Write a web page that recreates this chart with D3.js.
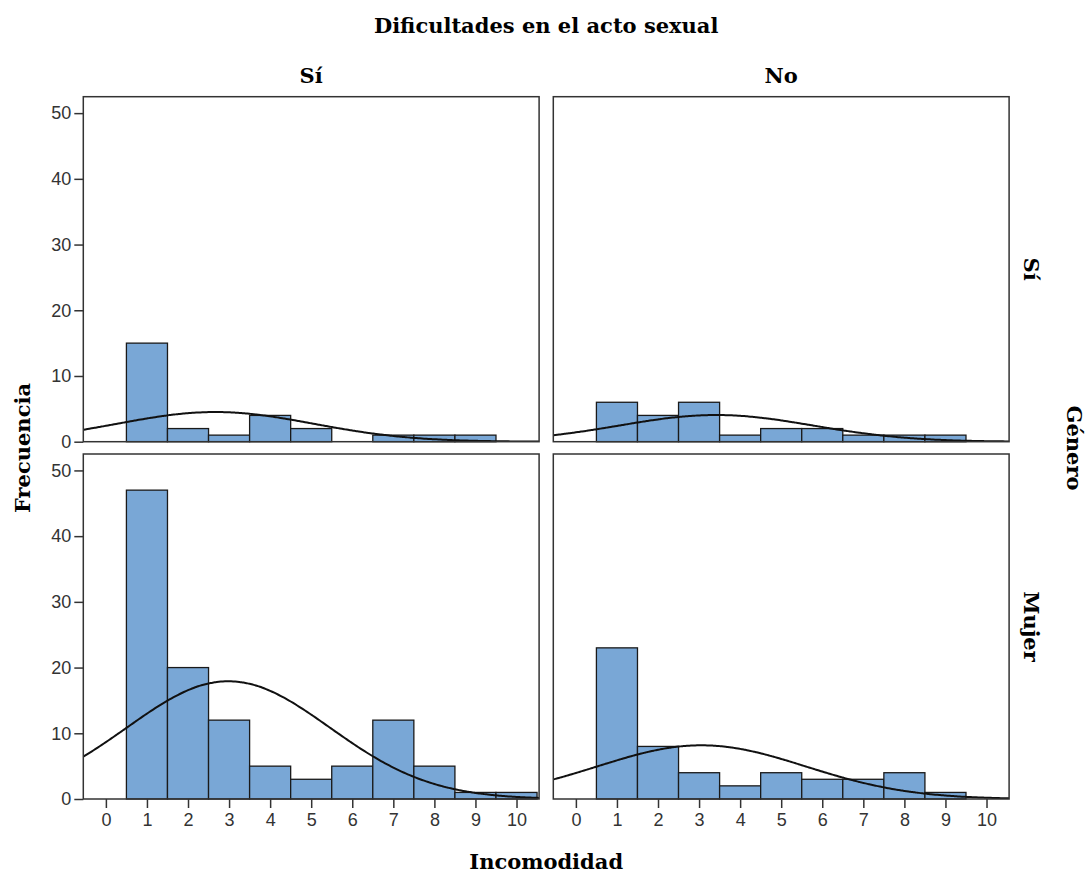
<!DOCTYPE html>
<html>
<head>
<meta charset="utf-8">
<script src="https://cdn.jsdelivr.net/npm/d3@7"></script>
<style>
  body { margin: 0; background: #fff; }
  svg { display: block; }
  .tick text { font-family: "Liberation Sans", Arial, sans-serif; font-size: 18px; fill: #333; }
  .lbl { font-family: "DejaVu Serif", serif; font-weight: bold; font-size: 21px; fill: #000; }
</style>
</head>
<body>
<svg id="chart" width="1091" height="873"></svg>
<script>
// Incomodidad bins 0..10
const bins = [0, 1, 2, 3, 4, 5, 6, 7, 8, 9, 10];
const colLabels = ["Sí", "No"];     // Dificultades en el acto sexual
const rowLabels = ["Sí", "Mujer"];  // Género
const yTicks = [0, 10, 20, 30, 40, 50];

// frequencies per bin, one array per panel
const countsTopSi = [0, 15, 2, 1, 4, 2, 0, 1, 1, 1, 0];
const countsTopNo = [0, 6, 4, 6, 1, 2, 2, 1, 1, 1, 0];
const countsBotSi = [0, 47, 20, 12, 5, 3, 5, 12, 5, 1, 1];
const countsBotNo = [0, 23, 8, 4, 2, 4, 3, 3, 4, 1, 0];

const panels = [
  { row: 0, col: 0, counts: countsTopSi },
  { row: 0, col: 1, counts: countsTopNo },
  { row: 1, col: 0, counts: countsBotSi },
  { row: 1, col: 1, counts: countsBotNo }
];

const svg = d3.select("#chart");

const colX = [83.3, 553.3];
const rowY = [96.7, 454];
const pw = 455.8, ph = 345;

const x = d3.scaleLinear().domain([-0.55, 10.55]).range([0, pw]);
const y = d3.scaleLinear().domain([0, 52.5]).range([ph, 0]);

// normal curve from the binned data
function normalCurve(counts) {
  const vals = [];
  counts.forEach((c, i) => { for (let k = 0; k < c; k++) vals.push(bins[i]); });
  const n = vals.length, m = d3.mean(vals), s = d3.deviation(vals);
  return d3.range(-0.55, 10.56, 0.05).map(v => ({
    x: v,
    y: n / (s * Math.sqrt(2 * Math.PI)) * Math.exp(-((v - m) ** 2) / (2 * s * s))
  }));
}

svg.append("defs").append("clipPath").attr("id", "clip")
  .append("rect").attr("width", pw).attr("height", ph);

const line = d3.line().x(d => x(d.x)).y(d => y(d.y)).curve(d3.curveBasis);

panels.forEach(p => {
  const g = svg.append("g").attr("transform", `translate(${colX[p.col]},${rowY[p.row]})`);

  g.append("rect").attr("width", pw).attr("height", ph).attr("fill", "#fff");

  const data = bins.map((b, i) => ({ b, c: p.counts[i] })).filter(d => d.c > 0);
  g.selectAll(".bar")
    .data(data)
    .enter()
    .append("rect")
    .attr("class", "bar")
    .attr("x", d => x(d.b - 0.5))
    .attr("width", d => x(d.b + 0.5) - x(d.b - 0.5))
    .attr("y", d => y(d.c))
    .attr("height", d => y(0) - y(d.c))
    .attr("fill", "#79a7d6")
    .attr("stroke", "#1a1a1a")
    .attr("stroke-width", 1.3);

  g.append("path")
    .datum(normalCurve(p.counts))
    .attr("clip-path", "url(#clip)")
    .attr("d", line)
    .attr("fill", "none")
    .attr("stroke", "#111")
    .attr("stroke-width", 2);

  g.append("rect").attr("width", pw).attr("height", ph)
    .attr("fill", "none").attr("stroke", "#333").attr("stroke-width", 1.5);

  if (p.col === 0) {
    const ay = g.append("g")
      .call(d3.axisLeft(y).tickValues(yTicks).tickSize(9).tickPadding(3));
    ay.select(".domain").remove();
    ay.selectAll(".tick line").attr("stroke", "#333").attr("stroke-width", 1.5);
  }
  if (p.row === 1) {
    const ax = g.append("g").attr("transform", `translate(0,${ph})`)
      .call(d3.axisBottom(x).tickValues(bins).tickSize(9).tickPadding(5));
    ax.select(".domain").remove();
    ax.selectAll(".tick line").attr("stroke", "#333").attr("stroke-width", 1.5);
  }
});

// titles and facet labels
svg.append("text").attr("class", "lbl")
  .attr("x", (colX[0] + colX[1] + pw) / 2).attr("y", 33)
  .attr("text-anchor", "middle").text("Dificultades en el acto sexual");

colLabels.forEach((t, i) => {
  svg.append("text").attr("class", "lbl")
    .attr("x", colX[i] + pw / 2).attr("y", 83)
    .attr("text-anchor", "middle").text(t);
});

rowLabels.forEach((t, i) => {
  svg.append("text").attr("class", "lbl")
    .attr("transform", `translate(1024,${rowY[i] + ph / 2}) rotate(90)`)
    .attr("text-anchor", "middle").text(t);
});

svg.append("text").attr("class", "lbl")
  .attr("transform", `translate(1067,448) rotate(90)`)
  .attr("text-anchor", "middle").text("Género");

svg.append("text").attr("class", "lbl")
  .attr("transform", `translate(30,448) rotate(-90)`)
  .attr("text-anchor", "middle").text("Frecuencia");

svg.append("text").attr("class", "lbl")
  .attr("x", (colX[0] + colX[1] + pw) / 2).attr("y", 869)
  .attr("text-anchor", "middle").text("Incomodidad");
</script>
</body>
</html>
